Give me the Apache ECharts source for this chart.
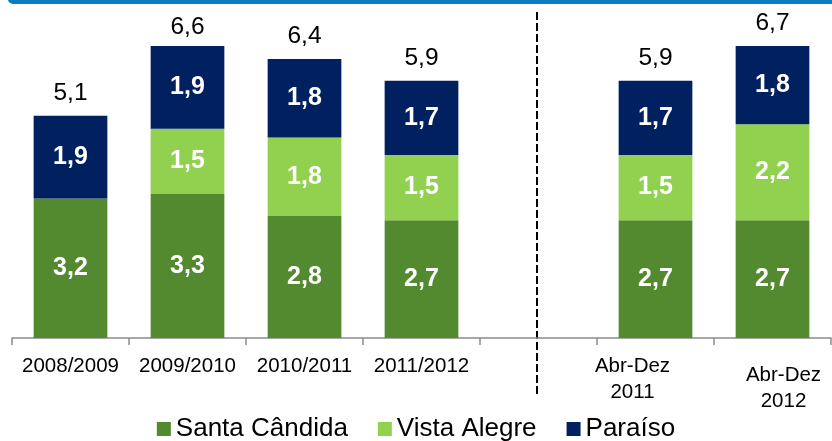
<!DOCTYPE html>
<html><head><meta charset="utf-8">
<script src="https://cdn.jsdelivr.net/npm/echarts@6/dist/echarts.min.js"></script>
<style>html,body{margin:0;padding:0;background:#fff}#c{width:832px;height:441px}</style>
</head><body><div id="c"></div>
<script>
var categories = ['2008/2009','2009/2010','2010/2011','2011/2012','','Abr-Dez\n2011','Abr-Dez\n2012'];
var santaCandida = [3.2,3.3,2.8,2.7,null,2.7,2.7];
var vistaAlegre  = [null,1.5,1.8,1.5,null,1.5,2.2];
var paraiso      = [1.9,1.9,1.8,1.7,null,1.7,1.8];
var totals       = [5.1,6.6,6.4,5.9,null,5.9,6.7];

var FONT = 'Liberation Sans, Arial, sans-serif';
function fmt(v){ return v == null ? '' : v.toFixed(1).replace('.', ','); }
var innerLabel = {show:true, position:'inside', color:'#fff', fontWeight:'bold', fontSize:25, fontFamily:FONT,
  formatter:function(p){ return fmt(p.value); }};

var catData = categories.map(function(c,i){
  var o = {value:c};
  if (i===5) o.textStyle = {padding:[0,46,0,0]};
  if (i===6) o.textStyle = {padding:[9,0,0,22]};
  return o;
});

var chart = echarts.init(document.getElementById('c'), null, {renderer:'canvas'});
chart.setOption({
  animation:false,
  grid:{left:12, right:1, top:11, bottom:103, containLabel:false},
  legend:{data:['Santa Cândida','Vista Alegre','Paraíso'], top:411, left:'center', itemWidth:14, itemHeight:14, itemGap:30,
    textStyle:{fontSize:26, fontFamily:FONT, color:'#000'}, icon:'rect'},
  xAxis:{type:'category', data:catData,
    axisLine:{lineStyle:{color:'#8c8c8c', width:1.5}},
    axisTick:{show:true, length:7, lineStyle:{color:'#8c8c8c', width:1.5}},
    axisLabel:{color:'#000', fontSize:20.5, fontFamily:FONT, margin:15, lineHeight:26, interval:0}},
  yAxis:{type:'value', min:0, max:7.5, show:false, splitLine:{show:false}},
  series:[
    {name:'Santa Cândida', type:'bar', stack:'a', barWidth:'63%', data:santaCandida,
      itemStyle:{color:'#538a2f'}, label:innerLabel},
    {name:'Vista Alegre', type:'bar', stack:'a', data:vistaAlegre,
      itemStyle:{color:'#92d050'}, label:innerLabel},
    {name:'Paraíso', type:'bar', stack:'a', data:paraiso,
      itemStyle:{color:'#002060'}, label:innerLabel},
    {name:'Total', type:'scatter', data:totals, symbolSize:0, itemStyle:{color:'#000', opacity:1},
      label:{show:true, position:'top', distance:10, color:'#000', fontSize:24.5, fontFamily:FONT,
        formatter:function(p){ return fmt(p.value); }}}
  ]
});
var sx = chart.convertToPixel({xAxisIndex:0}, 4);
chart.setOption({graphic:[
  {type:'rect', shape:{x:8, y:-6, width:830, height:10, r:6}, style:{fill:'#0a7cc0'}},
  {type:'line', shape:{x1:sx-1.5, y1:12, x2:sx-1.5, y2:397}, style:{stroke:'#000', lineWidth:2, lineDash:[8,3]}}
]});
</script></body></html>
